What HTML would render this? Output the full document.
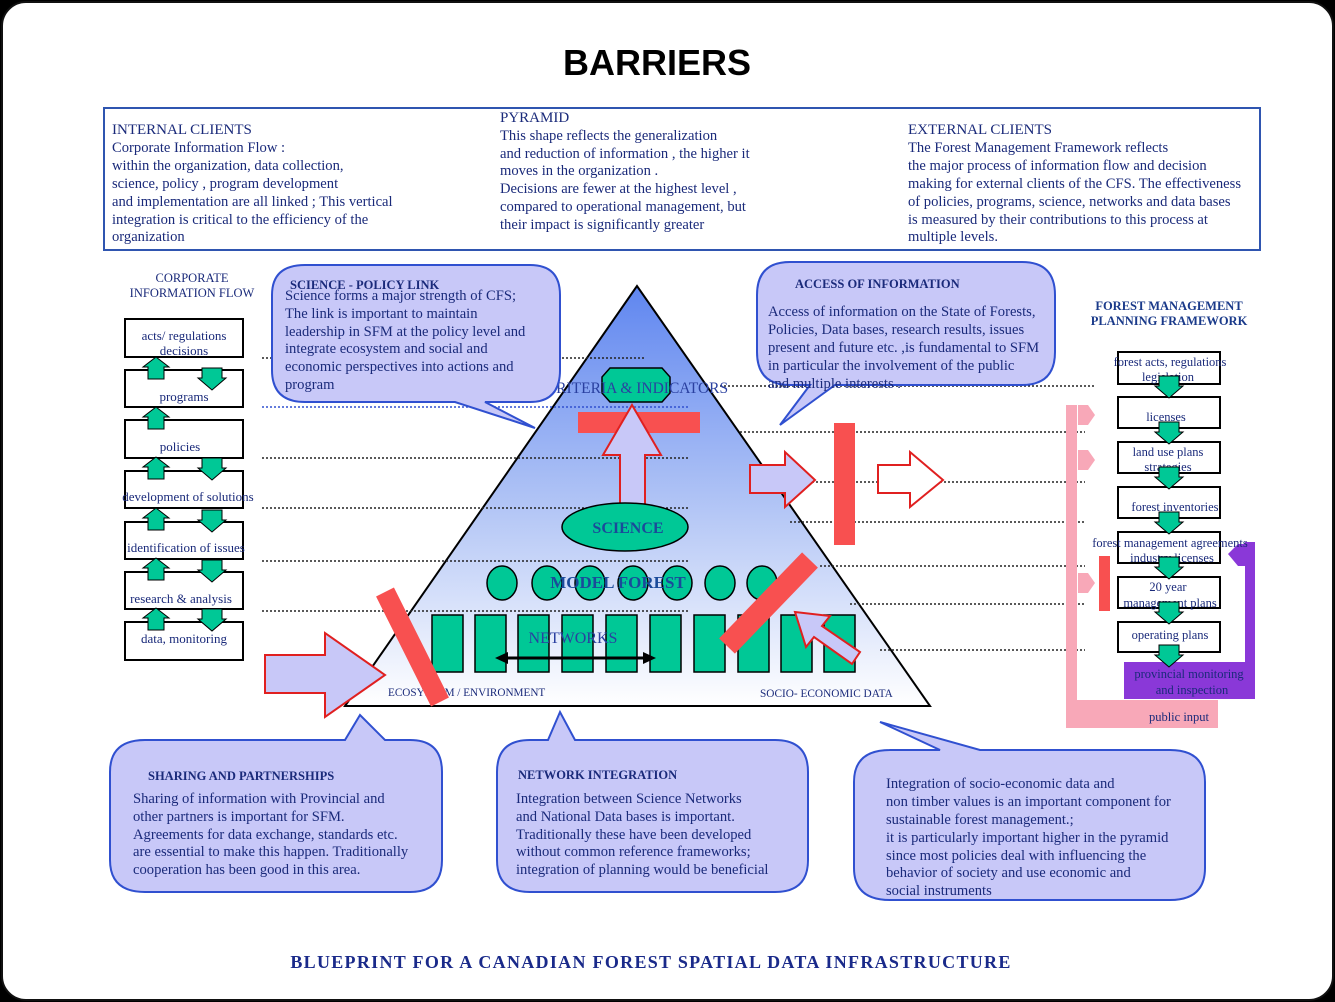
<!DOCTYPE html>
<html><head><meta charset="utf-8"><style>
body{margin:0;background:#000;}
svg{display:block;}
.s{font-family:"Liberation Serif",serif;fill:#1a2a7a;}
</style></head><body>
<svg width="1335" height="1002" viewBox="0 0 1335 1002" xmlns="http://www.w3.org/2000/svg">
<defs>
<linearGradient id="g" x1="0" y1="0" x2="0" y2="1">
<stop offset="0" stop-color="#5f86f0"/><stop offset="0.5" stop-color="#aec2f5"/><stop offset="1" stop-color="#ffffff"/>
</linearGradient>
<g id="up"><polygon points="0,-12 13,-2 8,-2 8,10 -8,10 -8,-2 -13,-2" fill="#00c896" stroke="#000" stroke-width="1"/></g>
<g id="dn"><polygon points="-10,-10 10,-10 10,0 14,0 0,12 -14,0 -10,0" fill="#00c896" stroke="#000" stroke-width="1"/></g>
</defs>
<rect x="2" y="2" width="1331" height="998" rx="24" fill="#fff" stroke="#111" stroke-width="2"/>
<text x="657" y="75" text-anchor="middle" font-family="Liberation Sans,sans-serif" font-weight="bold" font-size="36">BARRIERS</text>

<rect x="104" y="108" width="1156" height="142" fill="#fff" stroke="#2f55b0" stroke-width="2"/>
<g class="s" font-size="14.6">
<text x="112" y="134" font-size="15">INTERNAL CLIENTS</text>
<text x="112" y="152">Corporate Information Flow :</text>
<text x="112" y="170">within the organization, data collection,</text>
<text x="112" y="188">science, policy , program development</text>
<text x="112" y="206">and implementation are all linked ; This vertical</text>
<text x="112" y="224">integration is critical to the efficiency  of the</text>
<text x="112" y="241">organization</text>
<text x="500" y="122" font-size="15">PYRAMID</text>
<text x="500" y="140">This  shape reflects the generalization</text>
<text x="500" y="158">and reduction of information , the higher it</text>
<text x="500" y="175">moves in the organization .</text>
<text x="500" y="193">Decisions are fewer at the highest level ,</text>
<text x="500" y="211">compared  to operational management, but</text>
<text x="500" y="229">their  impact is significantly greater</text>
<text x="908" y="134" font-size="15">EXTERNAL CLIENTS</text>
<text x="908" y="152">The Forest Management Framework reflects</text>
<text x="908" y="170">the major process of information flow and decision</text>
<text x="908" y="188">making for external clients of the CFS. The effectiveness</text>
<text x="908" y="206">of policies, programs, science, networks and data bases</text>
<text x="908" y="224">is measured by their contributions to this process at</text>
<text x="908" y="241">multiple levels.</text>
</g>

<!-- pyramid -->
<polygon points="637,286 345,706 930,706" fill="url(#g)" stroke="#000" stroke-width="2"/>

<!-- dotted lines -->
<g stroke="#222" stroke-width="1.5" stroke-dasharray="2,2">
<line x1="262" y1="358" x2="645" y2="358"/>
<line x1="262" y1="458" x2="690" y2="458"/>
<line x1="262" y1="508" x2="690" y2="508"/>
<line x1="262" y1="561" x2="690" y2="561"/>
<line x1="262" y1="611" x2="690" y2="611"/>
<line x1="720" y1="386" x2="1095" y2="386"/>
<line x1="740" y1="432" x2="1085" y2="432"/>
<line x1="760" y1="482" x2="1085" y2="482"/>
<line x1="790" y1="522" x2="1085" y2="522"/>
<line x1="820" y1="566" x2="1085" y2="566"/>
<line x1="850" y1="604" x2="1085" y2="604"/>
<line x1="880" y1="650" x2="1085" y2="650"/>
</g>
<line x1="262" y1="407" x2="690" y2="407" stroke="#3050d0" stroke-width="1.5" stroke-dasharray="2,2"/>

<!-- pyramid content -->
<polygon points="610,368 662,368 670,377 670,393 662,402 610,402 602,393 602,377" fill="#00c896" stroke="#000" stroke-width="1.5"/>
<text x="637" y="393" text-anchor="middle" class="s" font-size="15.5" style="fill:#2a40a0">CRITERIA &amp;  INDICATORS</text>
<rect x="578" y="412" width="122" height="21" fill="#f85050"/>
<polygon points="632,405 661,455 645,455 645,505 620,505 620,455 603,455" fill="#c8c8f8" stroke="#e02020" stroke-width="2"/>
<ellipse cx="625" cy="527" rx="63" ry="24" fill="#00c896" stroke="#000" stroke-width="1.5"/>
<text x="628" y="533" text-anchor="middle" class="s" font-size="16" font-weight="bold" style="fill:#1a4a9a">SCIENCE</text>
<g fill="#00c896" stroke="#000" stroke-width="1.5">
<ellipse cx="502" cy="583" rx="15" ry="17"/><ellipse cx="547" cy="583" rx="15" ry="17"/><ellipse cx="590" cy="583" rx="15" ry="17"/><ellipse cx="633" cy="583" rx="15" ry="17"/><ellipse cx="677" cy="583" rx="15" ry="17"/><ellipse cx="720" cy="583" rx="15" ry="17"/><ellipse cx="762" cy="583" rx="15" ry="17"/>
<rect x="432" y="615" width="31" height="57"/><rect x="475" y="615" width="31" height="57"/><rect x="518" y="615" width="31" height="57"/><rect x="562" y="615" width="31" height="57"/><rect x="606" y="615" width="31" height="57"/><rect x="650" y="615" width="31" height="57"/><rect x="694" y="615" width="31" height="57"/><rect x="738" y="615" width="31" height="57"/><rect x="781" y="615" width="31" height="57"/><rect x="824" y="615" width="31" height="57"/>
</g>
<text x="618" y="588" text-anchor="middle" class="s" font-size="17" font-weight="bold" style="fill:#1a4a9a">MODEL FOREST</text>
<text x="573" y="643" text-anchor="middle" class="s" font-size="16" style="fill:#2a40a0">NETWORKS</text>
<line x1="503" y1="658" x2="648" y2="658" stroke="#000" stroke-width="3"/>
<polygon points="495,658 508,652 508,664" fill="#000"/><polygon points="656,658 643,652 643,664" fill="#000"/>
<text x="388" y="696" class="s" font-size="11.2">ECOSYSTEM / ENVIRONMENT</text>
<text x="760" y="697" class="s" font-size="11.3">SOCIO- ECONOMIC DATA</text>

<!-- arrows and barriers -->
<polygon points="265,655 325,655 325,633 385,675 325,717 325,693 265,693" fill="#c8c8f8" stroke="#e02020" stroke-width="2"/>
<line x1="385" y1="592" x2="440" y2="702" stroke="#f85050" stroke-width="20"/>
<polygon points="750,465 785,465 785,452 815,480 785,507 785,493 750,493" fill="#c8c8f8" stroke="#e02020" stroke-width="2"/>
<rect x="834" y="423" width="21" height="122" fill="#f85050"/>
<polygon points="878,465 910,465 910,452 943,480 910,507 910,493 878,493" fill="#fff" stroke="#e02020" stroke-width="2"/>
<line x1="810" y1="560" x2="727" y2="646" stroke="#f85050" stroke-width="22"/>
<polygon points="795,612 830,616 822,626 860,652 852,664 814,637 806,647" fill="#c8c8f8" stroke="#e02020" stroke-width="2"/>

<!-- left flow -->
<text x="192" y="282" text-anchor="middle" class="s" font-size="12.5">CORPORATE</text>
<text x="192" y="297" text-anchor="middle" class="s" font-size="12.5">INFORMATION  FLOW</text>
<g fill="#fff" stroke="#000" stroke-width="2">
<rect x="125" y="319" width="118" height="38"/><rect x="125" y="370" width="118" height="37"/><rect x="125" y="420" width="118" height="38"/><rect x="125" y="471" width="118" height="37"/><rect x="125" y="522" width="118" height="37"/><rect x="125" y="572" width="118" height="37"/><rect x="125" y="622" width="118" height="38"/>
</g>
<g class="s" font-size="13" text-anchor="middle">
<text x="184" y="340">acts/ regulations</text><text x="184" y="355">decisions</text>
<text x="184" y="401">programs</text><text x="180" y="451">policies</text>
<text x="188" y="501">development of solutions</text><text x="186" y="552">identification of issues</text>
<text x="181" y="603">research &amp; analysis</text><text x="184" y="643">data, monitoring</text>
</g>
<use href="#up" x="156" y="369"/><use href="#dn" x="212" y="378"/>
<use href="#up" x="156" y="419"/><use href="#dn" x="212" y="468"/>
<use href="#up" x="156" y="469"/><use href="#dn" x="212" y="520"/>
<use href="#up" x="156" y="520"/><use href="#dn" x="212" y="570"/>
<use href="#up" x="156" y="570"/><use href="#dn" x="212" y="619"/>
<use href="#up" x="156" y="620"/><use href="#dn" x="212" y="619"/>

<!-- right framework -->
<text x="1169" y="310" text-anchor="middle" class="s" font-size="12.5" font-weight="bold" style="fill:#1a3a8a">FOREST MANAGEMENT</text>
<text x="1169" y="325" text-anchor="middle" class="s" font-size="12.5" font-weight="bold" style="fill:#1a3a8a">PLANNING  FRAMEWORK</text>
<rect x="1066" y="405" width="11" height="323" fill="#f8a8b8"/>
<rect x="1066" y="700" width="152" height="28" fill="#f8a8b8"/>
<g fill="#f8a8b8"><polygon points="1078,405 1088,405 1095,415 1088,425 1078,425"/><polygon points="1078,450 1088,450 1095,460 1088,470 1078,470"/><polygon points="1078,573 1088,573 1095,583 1088,593 1078,593"/></g>
<rect x="1099" y="556" width="11" height="55" fill="#f85050"/>
<rect x="1124" y="662" width="131" height="37" fill="#8a38d8"/>
<rect x="1245" y="542" width="10" height="157" fill="#8a38d8"/>
<polygon points="1228,554 1238,544 1245,544 1245,566 1238,566" fill="#8a38d8"/>
<g fill="#fff" stroke="#000" stroke-width="2">
<rect x="1118" y="352" width="102" height="32"/><rect x="1118" y="397" width="102" height="31"/><rect x="1118" y="442" width="102" height="31"/><rect x="1118" y="487" width="102" height="31"/><rect x="1118" y="532" width="102" height="31"/><rect x="1118" y="577" width="102" height="31"/><rect x="1118" y="622" width="102" height="30"/>
</g>
<g class="s" font-size="12.5" text-anchor="middle">
<text x="1170" y="366">forest acts, regulations</text><text x="1168" y="381">legislation</text>
<text x="1166" y="421">licenses</text>
<text x="1168" y="456">land use plans</text><text x="1168" y="471">strategies</text>
<text x="1175" y="511">forest inventories</text>
<text x="1170" y="547">forest management agreements</text><text x="1172" y="562">industry licenses</text>
<text x="1168" y="591">20 year</text><text x="1170" y="607">management plans</text>
<text x="1170" y="639">operating plans</text>
<text x="1189" y="678">provincial monitoring</text><text x="1192" y="694">and inspection</text>
<text x="1179" y="721">public input</text>
</g>
<use href="#dn" x="1169" y="386"/><use href="#dn" x="1169" y="432"/><use href="#dn" x="1169" y="477"/><use href="#dn" x="1169" y="522"/><use href="#dn" x="1169" y="567"/><use href="#dn" x="1169" y="612"/><use href="#dn" x="1169" y="655"/>

<!-- callouts -->
<g fill="#c8c8f8" stroke="#3050d0" stroke-width="2">
<path d="M305,265 H530 Q560,265 560,295 V370 Q560,402 530,402 H485 L535,428 L455,402 H305 Q272,402 272,370 V295 Q272,265 305,265 Z"/>
<path d="M790,262 H1022 Q1055,262 1055,295 V352 Q1055,385 1022,385 H835 L780,425 L810,385 H790 Q757,385 757,352 V295 Q757,262 790,262 Z"/>
<path d="M145,740 H345 L360,715 L385,740 H410 Q442,740 442,772 V860 Q442,892 410,892 H145 Q110,892 110,860 V772 Q110,740 145,740 Z"/>
<path d="M530,740 H548 L560,712 L575,740 H775 Q808,740 808,772 V860 Q808,892 775,892 H530 Q497,892 497,860 V772 Q497,740 530,740 Z"/>
<path d="M890,750 H940 L880,722 L980,750 H1170 Q1205,750 1205,782 V868 Q1205,900 1170,900 H890 Q854,900 854,868 V782 Q854,750 890,750 Z"/>
</g>
<g class="s" font-size="14.6">
<text x="290" y="289" font-weight="bold" font-size="12.5">SCIENCE - POLICY LINK</text>
<text x="285" y="300">Science forms a major strength of CFS;</text>
<text x="285" y="318">The link is important to maintain</text>
<text x="285" y="336">leadership in SFM at the policy level and</text>
<text x="285" y="353">integrate ecosystem  and social and</text>
<text x="285" y="371">economic perspectives into actions and</text>
<text x="285" y="389">program</text>
<text x="795" y="288" font-weight="bold" font-size="12.5">ACCESS OF INFORMATION</text>
<text x="768" y="316">Access of information on the State of Forests,</text>
<text x="768" y="334">Policies, Data bases, research results, issues</text>
<text x="768" y="352">present and future  etc. ,is fundamental to SFM</text>
<text x="768" y="370">in particular the involvement of the public</text>
<text x="768" y="388">and multiple interests .</text>
<text x="148" y="780" font-weight="bold" font-size="12.5">SHARING AND PARTNERSHIPS</text>
<text x="133" y="803">Sharing of information with Provincial and</text>
<text x="133" y="821">other partners is important for SFM.</text>
<text x="133" y="839">Agreements for data exchange, standards etc.</text>
<text x="133" y="856">are essential to make this happen. Traditionally</text>
<text x="133" y="874">cooperation has been good in this area.</text>
<text x="518" y="779" font-weight="bold" font-size="12.5">NETWORK INTEGRATION</text>
<text x="516" y="803">Integration between Science Networks</text>
<text x="516" y="821">and National Data bases is important.</text>
<text x="516" y="839">Traditionally these have been developed</text>
<text x="516" y="856">without common reference frameworks;</text>
<text x="516" y="874">integration of planning  would be beneficial</text>
<text x="886" y="788">Integration of socio-economic data and</text>
<text x="886" y="806">non timber values is  an important component for</text>
<text x="886" y="824">sustainable forest management.;</text>
<text x="886" y="842">it is particularly important higher in the pyramid</text>
<text x="886" y="860">since most policies  deal with influencing  the</text>
<text x="886" y="877">behavior of society and use economic and</text>
<text x="886" y="895">social instruments</text>
</g>
<text x="651" y="968" text-anchor="middle" class="s" font-size="18" font-weight="bold" letter-spacing="1.3" style="fill:#1a2a8a">BLUEPRINT FOR A CANADIAN FOREST SPATIAL DATA INFRASTRUCTURE</text>
</svg>
</body></html>
